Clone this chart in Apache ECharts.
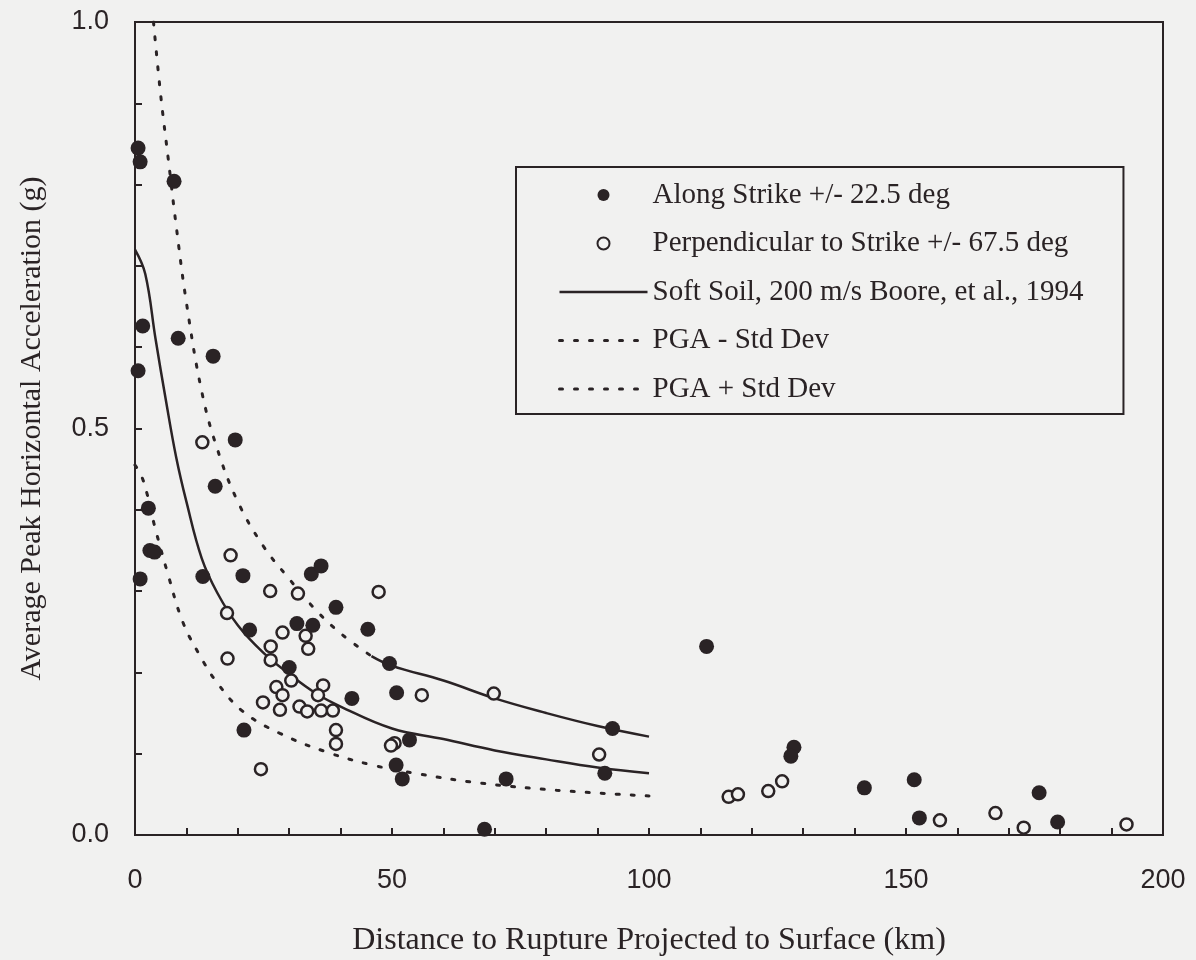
<!DOCTYPE html>
<html>
<head>
<meta charset="utf-8">
<title>Average Peak Horizontal Acceleration vs Distance</title>
<script src="https://cdn.jsdelivr.net/npm/echarts@6/dist/echarts.min.js"></script>
<style>
  html, body { margin: 0; padding: 0; background: #f1f1f0; }
  #chart { width: 1196px; height: 960px; }
</style>
</head>
<body>
<div id="chart"></div>
<script>
// 数据: [距离 km, PGA g]
const alongStrike = [
  [0.6, 0.845], [1, 0.828], [7.6, 0.804], [1.5, 0.626], [8.4, 0.611], [15.2, 0.589],
  [0.6, 0.571], [19.5, 0.486], [15.6, 0.429], [2.6, 0.402], [2.9, 0.350], [3.8, 0.348],
  [1, 0.315], [13.2, 0.318], [21, 0.319], [34.3, 0.321], [36.2, 0.331], [22.3, 0.252],
  [31.5, 0.26], [34.6, 0.258], [39.1, 0.28], [45.3, 0.253], [30, 0.206], [49.5, 0.211],
  [50.9, 0.175], [42.2, 0.168], [21.2, 0.129], [53.4, 0.117], [50.8, 0.086], [52, 0.069],
  [68, 0.007], [72.2, 0.069], [91.4, 0.076], [92.9, 0.131], [111.2, 0.232], [128.2, 0.108],
  [127.6, 0.097], [141.9, 0.058], [151.6, 0.068], [152.6, 0.021], [175.9, 0.052], [179.5, 0.016]
];

const perpStrike = [
  [13.1, 0.483], [18.6, 0.344], [17.9, 0.273], [18, 0.217], [26.3, 0.30], [31.7, 0.297],
  [47.4, 0.299], [28.7, 0.249], [33.2, 0.245], [33.7, 0.229], [26.4, 0.232], [26.4, 0.215],
  [30.4, 0.190], [27.5, 0.182], [28.7, 0.172], [36.6, 0.184], [35.6, 0.172], [24.9, 0.163],
  [28.2, 0.154], [32, 0.158], [33.5, 0.152], [36.2, 0.153], [38.5, 0.153], [39.1, 0.129],
  [39.1, 0.112], [50.5, 0.113], [49.8, 0.110], [24.5, 0.081], [55.8, 0.172], [69.8, 0.174],
  [90.3, 0.099], [115.5, 0.047], [117.3, 0.050], [123.2, 0.054], [125.9, 0.066],
  [156.6, 0.018], [167.4, 0.027], [172.9, 0.009], [192.9, 0.013]
];

// Boore et al. 1994 曲线
const pgaMedian = [
  [0, 0.72], [2, 0.69], [4, 0.61], [6, 0.535], [8, 0.465], [10, 0.41], [13, 0.34],
  [16, 0.298], [20, 0.258], [25, 0.224], [30, 0.198], [35, 0.175], [40, 0.158],
  [50, 0.131], [60, 0.118], [70, 0.104], [80, 0.093], [90, 0.083], [100, 0.076]
];

const pgaMinus = [
  [0, 0.455], [1.6, 0.436], [3.9, 0.378], [6.4, 0.321], [9.3, 0.262], [12.6, 0.221],
  [15.9, 0.188], [21, 0.152], [28.2, 0.125], [37.3, 0.102], [46.2, 0.086], [55.3, 0.075],
  [67, 0.064], [82, 0.055], [100, 0.048]
];

// 上限曲线: 46 km 之前为点线, 之后为实线
const pgaPlusDotted = [
  [3.6, 1.0], [5, 0.91], [6.5, 0.83], [8, 0.75], [10, 0.655], [13, 0.545], [16, 0.475],
  [20, 0.41], [25, 0.355], [30, 0.315], [35, 0.278], [40, 0.248], [46, 0.22]
];

const pgaPlusSolid = [
  [46, 0.22], [50, 0.208], [60, 0.19], [70, 0.168], [80, 0.15], [90, 0.134], [100, 0.121]
];

const xTitle = 'Distance to Rupture Projected to Surface (km)';
const yTitle = 'Average Peak Horizontal Acceleration (g)';

const ink = '#2a2325';
const bg = '#f1f1f0';
const serif = '"Liberation Serif", "Times New Roman", serif';
const sans = '"Liberation Sans", Arial, sans-serif';

const chart = echarts.init(document.getElementById('chart'), null, { renderer: 'canvas' });

const dotted = { color: ink, width: 3, type: [3, 12], cap: 'round' };
const solid = { color: ink, width: 2.5 };
const noSymbol = { opacity: 0 };

const option = {
  backgroundColor: bg,
  animation: false,
  grid: {
    left: 135, right: 33, top: 22, bottom: 125,
    outerBoundsMode: 'none',
    show: true, borderColor: ink, borderWidth: 2, backgroundColor: 'transparent'
  },
  legend: {
    orient: 'vertical',
    left: 516, top: 167,
    padding: [11, 40, 8, 42],
    itemGap: 14.5,
    itemWidth: 88,
    itemHeight: 12,
    borderColor: ink,
    borderWidth: 2,
    backgroundColor: bg,
    textStyle: { fontFamily: serif, fontSize: 29, color: ink, lineHeight: 34 },
    data: [
      { name: 'Along Strike +/- 22.5 deg', icon: 'circle', itemStyle: { color: ink, borderWidth: 0 } },
      { name: 'Perpendicular to Strike +/- 67.5 deg', icon: 'circle', itemStyle: { color: bg, borderColor: ink, borderWidth: 2 } },
      { name: 'Soft Soil, 200 m/s Boore, et al., 1994', itemStyle: noSymbol, lineStyle: solid },
      { name: 'PGA - Std Dev', itemStyle: noSymbol, lineStyle: dotted },
      { name: 'PGA + Std Dev', itemStyle: noSymbol, lineStyle: dotted }
    ]
  },
  xAxis: {
    type: 'value',
    min: 0, max: 200, interval: 50,
    name: xTitle,
    nameLocation: 'middle',
    nameGap: 90,
    nameTextStyle: { fontFamily: serif, fontSize: 32, color: ink },
    axisLine: { lineStyle: { color: ink, width: 2 } },
    axisTick: { inside: true, length: 7, lineStyle: { color: ink, width: 2 } },
    minorTick: { show: true, splitNumber: 5, length: 7, lineStyle: { color: ink, width: 2 } },
    axisLabel: { margin: 32, fontFamily: sans, fontSize: 27, color: ink },
    splitLine: { show: false }
  },
  yAxis: {
    type: 'value',
    min: 0, max: 1, interval: 0.5,
    name: yTitle,
    nameLocation: 'middle',
    nameGap: 88,
    nameTextStyle: { fontFamily: serif, fontSize: 30, color: ink },
    axisLine: { lineStyle: { color: ink, width: 2 } },
    axisTick: { inside: true, length: 7, lineStyle: { color: ink, width: 2 } },
    minorTick: { show: true, splitNumber: 5, length: 7, lineStyle: { color: ink, width: 2 } },
    axisLabel: {
      margin: 26, fontFamily: sans, fontSize: 27, color: ink,
      formatter: function (v) { return v.toFixed(1); }
    },
    splitLine: { show: false }
  },
  series: [
    {
      name: 'Soft Soil, 200 m/s Boore, et al., 1994',
      type: 'line', data: pgaMedian, smooth: 0.4, showSymbol: false, symbol: 'none',
      lineStyle: solid, itemStyle: { color: ink }, z: 2
    },
    {
      name: 'PGA - Std Dev',
      type: 'line', data: pgaMinus, smooth: 0.4, showSymbol: false, symbol: 'none',
      lineStyle: dotted, itemStyle: { color: ink }, z: 2
    },
    {
      name: 'PGA + Std Dev',
      type: 'line', data: pgaPlusDotted, smooth: 0.4, showSymbol: false, symbol: 'none',
      lineStyle: dotted, itemStyle: { color: ink }, z: 2
    },
    {
      name: 'PGA + Std Dev (solid)',
      type: 'line', data: pgaPlusSolid, smooth: 0.4, showSymbol: false, symbol: 'none',
      lineStyle: solid, itemStyle: { color: ink }, z: 2
    },
    {
      name: 'Along Strike +/- 22.5 deg',
      type: 'scatter', data: alongStrike, symbol: 'circle', symbolSize: 15,
      itemStyle: { color: ink, opacity: 1 }, z: 4
    },
    {
      name: 'Perpendicular to Strike +/- 67.5 deg',
      type: 'scatter', data: perpStrike, symbol: 'circle', symbolSize: 12,
      itemStyle: { color: bg, borderColor: ink, borderWidth: 2.5, opacity: 1 }, z: 5
    }
  ]
};

chart.setOption(option);
</script>
</body>
</html>
